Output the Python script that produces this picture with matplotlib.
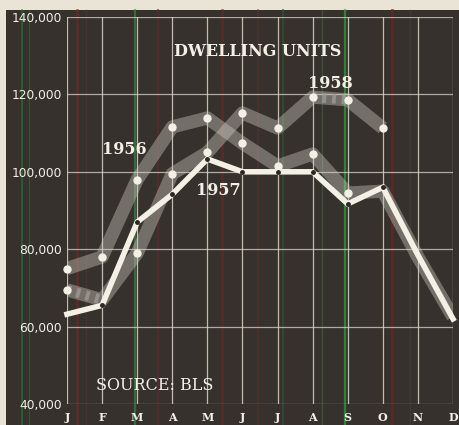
import matplotlib.pyplot as plt
from matplotlib.patches import Rectangle
from matplotlib.lines import Line2D
import numpy as np

# Monatswerte Wohneinheiten
monate = ["J", "F", "M", "A", "M", "J", "J", "A", "S", "O", "N", "D"]
wert_1956 = [75000, 78000, 98000, 111600, 113900, 107400, 101500, 104600, 94500, 95000, 78000, 62500]
wert_1957 = [63200, 65500, 87000, 94200, 103300, 100000, 100000, 100000, 91700, 96000, 78500, 62000]
wert_1958 = [69500, 66900, 79000, 99500, 105000, 115200, 111300, 119300, 118600, 111300]
y_ticks = [40000, 60000, 80000, 100000, 120000, 140000]

papier = "#e9e4d5"
grund = "#36312c"
gitter = "#d9d5cc"
hell = "#f3f0e6"

fig = plt.figure(figsize=(4.59, 4.25), dpi=100, facecolor=papier)
W, H = 459, 425

# dunkle Tafel
fig.patches.append(Rectangle((6 / W, 0), 1 - 6 / W, 1 - 10 / H, transform=fig.transFigure,
                             facecolor=grund, edgecolor="none", zorder=0))

# farbige Druckstreifen
streifen = [(22, "#2f7a3a", 1.2), (29, "#3b6a40", 0.8), (77, "#6e2a2a", 2.0), (86, "#5a3232", 1.0),
            (135, "#2f9a45", 1.6), (158, "#5e2c2c", 1.5), (222, "#6a2828", 2.0), (258, "#5a3030", 1.2),
            (283, "#2c5a36", 1.5), (322, "#3d6a45", 1.0), (345, "#33b04c", 1.6), (392, "#6e2626", 2.2),
            (410, "#4a3b45", 1.0)]
for px, farbe, breite in streifen:
    fig.lines.append(Line2D([px / W, px / W], [0, 1 - 10 / H], transform=fig.transFigure,
                            color=farbe, lw=breite, alpha=0.6, zorder=0.5))

ax = fig.add_axes([67 / W, 1 - 404 / H, (453 - 67) / W, (404 - 17) / H])
ax.set_zorder(2)
ax.set_facecolor("none")
ax.set_xlim(0, 11)
ax.set_ylim(40000, 140000)
for s in ax.spines.values():
    s.set_visible(False)

x = np.arange(12)
for xi in x:
    ax.axvline(xi, color=gitter, lw=0.9, alpha=0.85, zorder=1)
for yv in y_ticks:
    ax.axhline(yv, color=gitter, lw=0.9, alpha=0.75, zorder=1)

# graue Bänder 1956 und 1958
band = dict(color="#cfcdc4", lw=9.5, alpha=0.4, solid_joinstyle="round", solid_capstyle="butt", zorder=2)
ax.plot(x, wert_1956, **band)
x58 = x[:len(wert_1958)]
ax.plot(x58, wert_1958, **band)

# schraffierte Abschnitte
schraffur = dict(color="#9c9a92", lw=7, linestyle=(0, (0.4, 0.6)), alpha=0.8, zorder=2.5)
ax.plot(x58[0:2], wert_1958[0:2], **schraffur)
ax.plot(x58[7:9], wert_1958[7:9], **schraffur)

ax.plot(x[:9], wert_1956[:9], linestyle="none", marker="o", ms=5, color=hell, zorder=3, clip_on=False)
punkte58 = [0, 2, 3, 4, 5, 6, 7, 8, 9]
ax.plot(x58[punkte58], [wert_1958[i] for i in punkte58], linestyle="none", marker="o", ms=5,
        color=hell, zorder=3, clip_on=False)

# weiße Linie 1957
ax.plot(x, wert_1957, color=hell, lw=4, solid_joinstyle="miter", zorder=4, clip_on=False)
ax.plot(x[1:10], wert_1957[1:10], linestyle="none", marker="o", ms=2.5, color="#2a2622", zorder=5)

ax.set_xticks(x)
ax.set_xticklabels(monate, family="DejaVu Serif", fontweight="bold", fontsize=8, color=hell)
ax.set_yticks(y_ticks)
ax.set_yticklabels([f"{v:,}" for v in y_ticks], family="DejaVu Sans", fontsize=8.8, color=hell)
ax.tick_params(axis="x", length=0, pad=6)
ax.tick_params(axis="y", length=0, pad=3.5)

serif = dict(family="DejaVu Serif", color=hell, zorder=6)
ax.text(5.44, 131000, "DWELLING UNITS", fontsize=11.5, fontweight="bold", ha="center", va="center", **serif)
ax.text(7.5, 120600, "1958", fontsize=11.5, fontweight="bold", ha="center", va="bottom", **serif)
ax.text(1.62, 105700, "1956", fontsize=11.5, fontweight="bold", ha="center", va="center", **serif)
ax.text(4.3, 95200, "1957", fontsize=11.5, fontweight="bold", ha="center", va="center", **serif)
ax.text(2.5, 44900, "SOURCE: BLS", fontsize=11.5, ha="center", va="center", **serif)

fig.savefig("out.png", dpi=100, facecolor=papier)
